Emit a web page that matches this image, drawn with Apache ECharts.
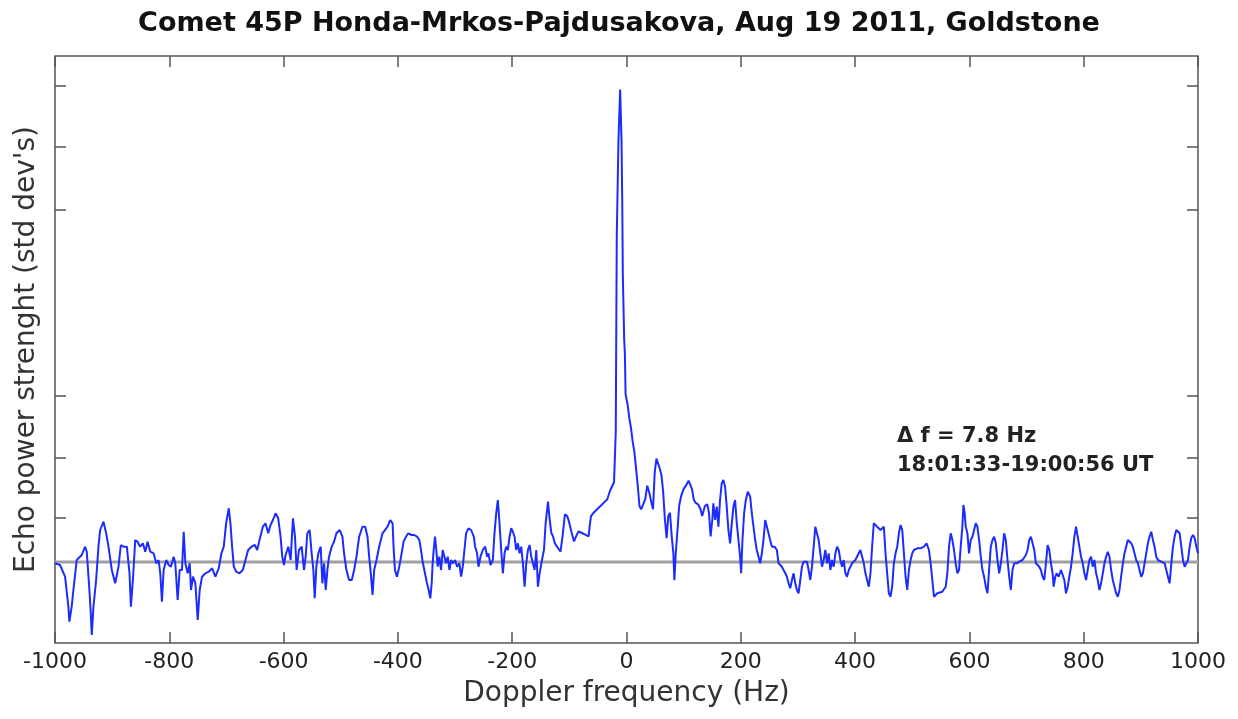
<!DOCTYPE html>
<html>
<head>
<meta charset="utf-8">
<script src="https://cdn.jsdelivr.net/npm/echarts@6/dist/echarts.min.js"></script>
<style>
html,body{margin:0;padding:0;background:#fff;}
#chart{width:1238px;height:719px;}
</style>
</head>
<body>
<div id="chart"></div>
<script>
// Doppler frequency (Hz)
const freq = [
-1000.0,-991.2,-982.4,-976.6,-974.9,-970.8,-967.8,-962.0,-953.2,-947.4,-944.4,-939.8,-937.4,-935.7,-932.7,-928.0,-924.0,-921.0,-915.2,-910.5,
-906.4,-900.6,-894.7,-888.9,-884.8,-880.1,-874.3,-869.6,-867.2,-863.7,-859.6,-855.6,-850.9,-846.2,-842.1,-838.0,-833.3,-827.5,-822.8,-818.7,
-815.8,-812.9,-809.9,-805.3,-801.2,-797.1,-792.4,-789.5,-785.4,-781.9,-777.8,-774.8,-771.9,-767.8,-764.3,-762.0,-758.5,-754.4,-750.3,-746.8,
-742.7,-736.8,-731.0,-725.1,-719.3,
-713.5,-708.8,-704.7,-700.6,-695.9,-693.0,-690.1,-687.1,-683.0,-677.2,-671.4,-666.7,-662.0,-656.1,-650.3,-646.2,-642.1,-636.3,-631.6,-626.9,
-622.8,-618.7,-614.0,-609.4,-605.3,-602.3,-599.4,-596.5,-591.8,-587.7,-583.6,-580.1,-577.2,-573.1,-568.4,-564.3,-561.4,-558.5,-554.4,-550.9,
-547.9,-545.6,-542.7,-539.2,-535.1,-532.2,-529.2,-526.3,-523.4,-520.5,-515.8,-511.7,-507.6,-501.8,-497.1,-494.2,-490.1,-485.4,-480.7,-476.6,
-472.5,-467.8,-462.0,-457.3,-453.2,-450.3,-447.4,-444.4,-441.5,-437.4,-432.8,-426.9,
-424.0,-418.1,-413.4,-409.3,-407.6,-405.2,-401.7,-397.6,-393.5,-390.0,-385.9,-381.8,-376.0,-371.3,-366.6,-362.5,-359.6,-356.7,-353.8,-349.1,
-346.2,-343.3,-340.9,-339.2,-337.4,-335.1,-333.3,-330.4,-327.5,-324.5,-321.6,-318.7,-315.8,-312.8,-309.9,-307.0,-304.1,-300.0,-296.5,-292.4,
-289.4,-286.5,-283.6,-280.7,-276.6,-271.9,-267.2,-264.9,-261.4,-259.0,-255.5,-251.4,-247.3,-243.8,-241.5,-238.0,-233.9,-231.0,-228.0,-225.1,
-222.2,-219.3,-216.3,-213.4,-210.5,-207.6,-204.6,-201.7,-198.8,-195.9,-193.0,-190.0,-187.1,-184.2,-181.3,-178.3,-175.4,-172.5,-169.6,-166.6,
-163.7,-160.8,-157.9,-155.0,-152.0,-147.9,-144.4,-141.5,-137.4,
-134.5,-131.5,-128.5,-125.6,-119.6,-115.5,-111.9,-107.8,-103.6,-100.1,-95.9,-91.8,-88.2,-84.1,-78.1,-72.2,-66.3,-64.5,-62.1,-57.4,
-51.4,-45.5,-39.6,-33.6,-28.9,-24.7,-21.8,-18.8,-17.0,-14.1,-11.1,-8.7,-7.5,-6.4,-4.0,-2.8,-1.6,1.9,4.9,7.9,
10.8,13.8,16.8,19.7,22.7,25.7,28.6,32.8,36.3,40.5,43.5,46.4,49.4,52.4,58.3,61.3,64.2,67.2,70.2,73.1,
76.1,79.1,82.0,83.8,86.2,89.7,92.1,95.7,99.8,104.0,108.7,111.7,114.6,117.6,120.6,125.3,129.5,132.4,137.2,141.3,
144.3,147.2,150.2,
152.0,155.0,157.9,160.8,163.7,166.6,169.6,172.5,175.4,178.3,181.3,184.2,187.1,190.0,193.0,195.9,198.8,200.6,202.9,205.8,
208.8,212.3,216.4,219.3,222.2,225.1,228.0,231.0,233.9,236.8,239.7,242.7,245.6,248.5,251.4,254.4,259.0,263.1,266.1,269.0,
271.9,274.8,277.8,280.7,283.6,286.5,289.5,292.4,295.3,298.2,301.1,304.1,307.0,309.9,312.8,315.8,318.7,321.6,324.5,327.5,
330.4,333.3,336.2,339.2,342.1,345.0,347.9,350.9,353.8,356.7,359.6,362.6,365.5,368.4,371.3,374.2,377.2,380.1,383.0,385.9,
388.9,391.8,394.7,400.5,406.4,409.3,412.3,415.2,418.1,421.0,424.0,426.9,429.8,432.7,435.6,438.6,441.5,444.4,
447.4,450.3,453.2,456.1,459.1,462.0,464.9,467.8,470.8,473.7,476.6,479.5,482.5,485.4,488.3,491.2,494.2,497.1,500.0,502.9,
508.8,514.6,520.5,525.1,527.5,529.2,532.2,535.1,538.0,540.9,543.9,546.8,552.6,558.5,561.4,564.3,567.3,570.2,573.1,576.0,
579.0,581.9,584.8,587.7,589.5,591.8,593.6,596.5,599.4,602.3,605.3,608.2,611.1,614.0,617.0,619.9,622.8,625.7,628.7,631.6,
634.5,637.4,640.4,643.3,646.2,649.1,652.1,655.0,657.9,660.8,663.7,666.7,669.6,672.5,675.4,678.4,683.0,687.1,693.0,695.9,
698.8,701.8,704.7,707.6,710.5,713.5,716.4,719.3,722.2,725.1,728.1,731.0,733.9,
736.9,739.8,742.7,745.6,747.4,750.3,752.7,756.2,760.3,763.2,766.1,769.0,772.0,774.9,777.8,780.7,783.7,786.6,789.5,792.4,
795.4,798.3,801.2,804.1,807.0,810.0,812.9,815.8,818.7,821.7,824.6,827.5,830.4,833.4,836.3,839.2,842.1,845.1,848.0,850.9,
853.8,856.8,859.7,862.6,865.5,868.5,871.4,874.3,877.2,880.1,883.1,886.0,888.9,891.8,894.8,897.7,900.6,903.5,906.5,909.4,
912.3,915.2,918.2,921.1,924.0,926.9,929.9,932.8,935.7,938.6,941.6,944.5,947.4,950.3,953.3,956.2,959.1,962.0,964.9,967.9,
970.8,973.7,976.6,979.6,982.5,985.4,988.3,991.3,994.2,997.1,1000.0
];
// Echo power (std dev's)
const power = [
-0.13,-0.3,-1.47,-4.47,-5.97,-4.47,-2.8,0.2,0.7,1.53,1.03,-2.8,-5.13,-7.3,-4.47,-1.8,1.53,3.2,4.03,2.87,
1.53,-0.8,-2.13,-0.47,1.7,1.53,1.53,-1.13,-4.47,-1.8,2.2,2.03,1.53,1.87,1.03,2.03,1.03,0.87,-0.13,0.2,
-1.13,-3.97,-0.8,0.2,-0.3,-0.47,0.53,-0.13,-3.8,-0.8,-0.8,3.03,-0.13,-1.13,-0.13,-2.8,-1.47,-2.13,-5.8,-2.8,
-1.47,-1.13,-0.97,-0.63,-1.47,
-0.63,0.87,1.53,3.87,5.37,3.87,1.53,-0.47,-0.97,-1.13,-0.8,0.2,1.2,1.53,1.7,1.2,2.2,3.53,3.87,2.87,
3.7,4.2,4.87,4.37,2.53,0.53,-0.3,0.7,1.53,0.2,4.37,2.53,-0.8,1.2,1.53,-0.8,0.53,2.87,3.2,0.87,
-0.8,-3.63,-0.47,0.87,1.53,-2.13,-0.13,-2.8,-0.8,0.53,1.53,2.03,2.87,3.2,2.53,0.87,-0.8,-1.8,-1.8,-0.8,
0.53,2.53,3.53,3.53,2.53,0.53,-1.13,-3.3,-0.8,0.2,1.53,2.87,
2.7,3.53,4.2,3.87,1.53,-0.8,-1.47,-0.47,0.87,2.03,2.53,2.87,2.7,2.7,2.53,2.2,1.2,0.03,-0.8,-2.13,
-2.8,-3.63,-2.13,-0.13,1.2,2.53,1.53,-0.47,0.53,-0.8,1.2,1.37,-0.13,0.53,-0.8,0.2,-0.13,0.2,-0.47,-0.13,
-1.47,-0.47,1.2,2.87,3.37,3.2,2.53,1.53,0.87,-0.47,0.53,1.2,1.53,0.53,0.87,-0.3,0.2,2.87,4.87,6.2,
3.87,1.2,-1.13,0.87,1.53,1.2,2.53,3.37,3.03,2.53,1.2,1.87,0.87,1.53,-0.13,-2.47,-0.13,1.2,1.7,0.53,
-0.13,-0.8,1.2,-2.47,-1.13,0.2,1.2,3.87,6.03,
4.25,2.9,2.56,1.89,1.38,1.04,2.56,4.76,4.59,3.91,2.9,2.05,2.56,3.07,2.9,2.73,2.56,3.57,4.59,4.93,
5.27,5.6,5.94,6.28,7.13,7.63,7.97,13.04,32.65,42.11,47.25,42.11,36.37,28.59,22.17,20.82,16.76,15.75,14.39,13.38,
12.03,11.01,9.32,7.63,5.6,5.27,5.43,6.28,7.63,6.79,5.94,5.27,8.98,10.34,9.32,8.65,6.96,4.25,2.39,4.59,
4.93,2.56,0.87,-1.83,0.87,3.57,5.6,6.62,7.29,7.63,8.14,8.31,7.29,6.28,5.94,5.77,5.27,4.59,5.6,5.77,
4.93,2.56,4.25,
5.87,4.2,5.53,3.53,6.2,7.87,8.2,7.53,5.53,3.2,1.87,3.87,5.53,6.2,3.87,2.2,0.53,-1.13,2.2,4.87,
6.2,7.03,6.53,4.87,3.53,2.2,1.2,0.53,-0.13,0.87,2.2,4.2,4.37,2.87,2.2,1.53,1.53,1.2,-0.13,-0.3,
-0.47,-0.8,-1.13,-1.47,-2.13,-2.63,-1.8,-1.13,-2.13,-2.8,-3.13,-1.8,-0.47,0.03,-0.13,0.03,-0.8,-1.8,-0.47,1.53,
3.53,3.37,2.2,0.87,-0.47,0.2,1.2,-0.13,0.87,-0.8,0.2,-0.47,0.87,1.53,1.2,0.2,-0.47,0.2,-1.13,-1.47,
-0.8,-0.47,-0.13,0.2,0.87,1.2,0.53,-0.13,-1.13,-1.8,-2.47,-1.13,1.53,3.87,3.87,3.53,3.37,3.2,
3.2,3.53,0.87,-1.13,-3.13,-3.47,-2.47,-0.13,0.87,1.53,2.87,3.7,3.2,0.87,-1.47,-2.8,-0.8,0.2,0.87,1.2,
1.37,1.37,1.53,1.87,2.03,1.2,-0.13,-1.8,-3.47,-3.47,-3.13,-3.13,-2.97,-2.47,-1.13,1.53,2.87,2.2,1.2,-0.13,
-1.13,-0.8,1.53,3.53,5.7,4.87,3.53,2.87,0.87,2.2,2.53,3.2,3.87,3.53,2.2,0.53,-0.8,-1.47,-2.47,-3.13,
-0.8,1.53,2.2,2.53,1.87,0.2,-1.13,-0.13,1.2,2.87,2.2,0.2,-1.47,-2.8,-0.8,-0.13,-0.13,0.03,0.2,0.37,
0.7,1.2,2.2,2.53,1.87,1.2,-0.13,-0.13,-0.47,-0.8,-1.47,-1.8,-0.13,
1.7,1.2,-0.13,-1.13,-2.47,-1.47,-1.13,-1.47,-0.8,-0.97,-1.8,-3.13,-2.47,-1.47,-0.47,0.87,2.53,3.53,2.53,1.53,
0.53,-0.13,-1.13,-1.8,-0.8,0.2,0.53,-0.47,0.2,-1.13,-1.8,-2.8,-2.13,-1.13,-0.13,0.53,1.03,0.53,-0.8,-1.8,
-2.47,-3.13,-3.47,-2.8,-1.47,-0.13,0.87,1.53,2.2,2.2,1.87,1.53,0.87,0.2,-0.13,-0.8,-1.47,-1.13,-0.13,0.87,
1.87,2.53,3.03,2.2,1.53,0.53,0.2,0.2,0.03,0.2,-0.13,-0.8,-1.47,-2.13,-0.13,1.53,2.53,3.2,3.37,2.87,
1.53,0.2,-0.47,-0.63,0.2,1.53,2.43,2.7,2.37,1.53,0.87
];
// axis tick positions (left/right y ticks, no labels in the original)
const yTickValues = [4.4, 10.45, 16.65, 35.2, 41.5, 47.6];
const baseline = [[-1000, 0], [1000, 0]];

const titleText = 'Comet 45P Honda-Mrkos-Pajdusakova, Aug 19 2011, Goldstone';
const noteLines = ['\u0394 f = 7.8 Hz', '18:01:33-19:00:56 UT'];

const chart = echarts.init(document.getElementById('chart'), null, {renderer: 'canvas'});
const FONT = '"DejaVu Sans", Verdana, sans-serif';
const frameColor = '#555';
const tickCommon = {show: true, inside: true, length: 11, lineStyle: {color: frameColor, width: 1.5}};

chart.setOption({
  animation: false,
  backgroundColor: '#fff',
  title: {
    text: titleText, left: 'center', top: 5,
    textStyle: {fontFamily: FONT, fontSize: 27, fontWeight: 'bold', color: '#111'}
  },
  grid: {left: 55, right: 40, top: 56, bottom: 76, show: true, borderColor: frameColor, borderWidth: 1.5, backgroundColor: 'transparent'},
  xAxis: [{
    type: 'value', min: -1000, max: 1000, interval: 200, position: 'bottom',
    name: 'Doppler frequency (Hz)', nameLocation: 'middle', nameGap: 37,
    nameTextStyle: {fontFamily: FONT, fontSize: 28, color: '#333'},
    axisLine: {show: false, onZero: false},
    axisTick: tickCommon,
    axisLabel: {fontFamily: FONT, fontSize: 22, color: '#222', margin: 8, formatter: v => String(v)},
    splitLine: {show: false}
  }, {
    type: 'value', min: -1000, max: 1000, interval: 200, position: 'top',
    axisLine: {show: false, onZero: false},
    axisTick: tickCommon,
    axisLabel: {show: false},
    splitLine: {show: false}
  }],
  yAxis: [{
    type: 'value', min: -8.1, max: 50.6, position: 'left',
    name: "Echo power strenght (std dev's)", nameLocation: 'middle', nameGap: 14,
    nameTextStyle: {fontFamily: FONT, fontSize: 28, color: '#333'},
    axisLine: {show: false, onZero: false},
    axisTick: Object.assign({customValues: yTickValues}, tickCommon),
    axisLabel: {show: false},
    splitLine: {show: false}
  }, {
    type: 'value', min: -8.1, max: 50.6, position: 'right',
    axisLine: {show: false, onZero: false},
    axisTick: Object.assign({customValues: yTickValues}, tickCommon),
    axisLabel: {show: false},
    splitLine: {show: false}
  }],
  graphic: [{
    type: 'text', left: 897, top: 426,
    style: {text: noteLines[0], font: 'bold 21px ' + FONT, fill: '#222'}
  }, {
    type: 'text', left: 897, top: 455,
    style: {text: noteLines[1], font: 'bold 21px ' + FONT, fill: '#222'}
  }],
  series: [{
    type: 'line', data: baseline, symbol: 'none', silent: true,
    lineStyle: {color: '#a0a0a0', width: 3}, z: 1
  }, {
    type: 'line', data: freq.map((f, i) => [f, power[i]]),
    symbol: 'none', silent: true,
    lineStyle: {color: '#1c2cff', width: 2}, z: 2
  }]
});
</script>
</body>
</html>
